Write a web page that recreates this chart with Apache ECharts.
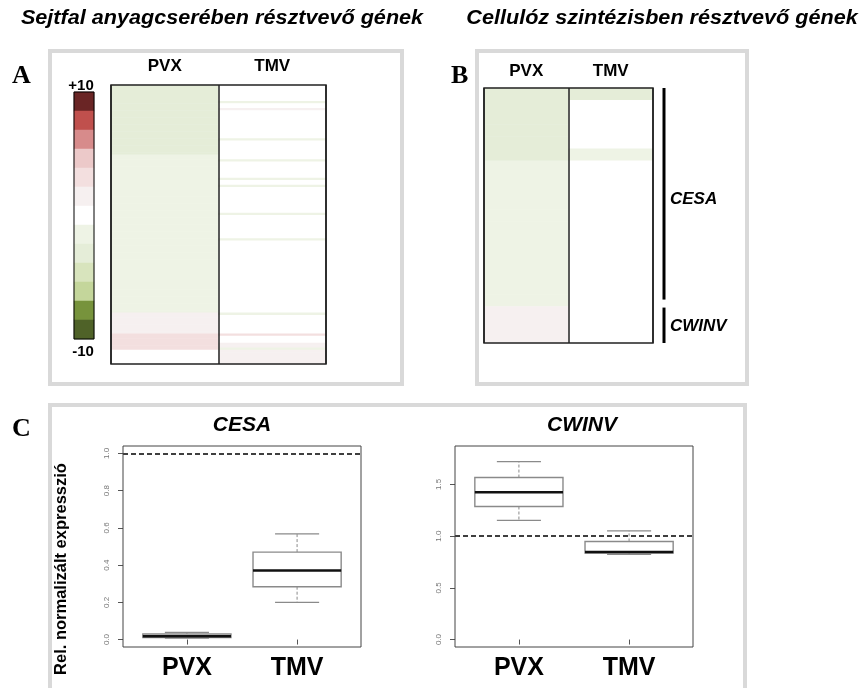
<!DOCTYPE html>
<html>
<head>
<meta charset="utf-8">
<script src="https://cdn.jsdelivr.net/npm/echarts@6/dist/echarts.min.js"></script>
<style>
html,body{margin:0;padding:0;background:#fff;}
#chart{width:861px;height:688px;}
</style>
</head>
<body>
<div id="chart"></div>
<script>
// Colour key for log2 fold change, listed from +10 (top) to -10 (bottom)
const scaleColors = ['#6a2525','#c0504d','#d78b8b','#ecc9c9','#f3dfdf','#f6f0f0','#ffffff','#eef3e5','#e5edd8','#d8e4bd','#c4d69b','#77933c','#4f6228'];
const scaleEdges = [10, 8.46, 6.92, 5.38, 3.85, 2.31, 0.77, -0.77, -2.31, -3.85, -5.38, -6.92, -8.46, -10];
const scaleSteps = [9.2, 7.7, 6.2, 4.6, 3.1, 1.5, 0, -1.5, -3.1, -4.6, -6.2, -7.7, -9.2];
const scaleLabels = ['+10', '0', '-10'];

const conditions = ['PVX', 'TMV'];

// A: cell wall metabolism genes, one value per gene (top to bottom)
const wallPVX = [
  -3, -3, -3, -3, -3, -3, -3, -3, -3, -3,
  -3, -3, -3, -3, -3, -3, -3, -3, -3, -3,
  -3, -3, -3, -3, -3, -3, -3, -3, -3, -3,
  -1.5, -1.5, -1.5, -1.5, -1.5, -1.5, -1.5, -1.5, -1.5, -1.5,
  -1.5, -1.5, -1.5, -1.5, -1.5, -1.5, -1.5, -1.5, -1.5, -1.5,
  -1.5, -1.5, -1.5, -1.5, -1.5, -1.5, -1.5, -1.5, -1.5, -1.5,
  -1.5, -1.5, -1.5, -1.5, -1.5, -1.5, -1.5, -1.5, -1.5, -1.5,
  -1.5, -1.5, -1.5, -1.5, -1.5, -1.5, -1.5, -1.5, -1.5, -1.5,
  -1.5, -1.5, -1.5, -1.5, -1.5, -1.5, -1.5, -1.5, -1.5, -1.5,
  -1.5, -1.5, -1.5, -1.5, -1.5, -1.5, -1.5, -1.5, 1.5, 1.5,
  1.5, 1.5, 1.5, 1.5, 1.5, 1.5, 1.5, 3, 3, 3,
  3, 3, 3, 3, 0, 0, 0, 0, 0, 0
];
const wallTMV = [
  0, 0, 0, 0, 0, 0, 0, -1.5, 0, 0,
  1.2, 0, 0, 0, 0, 0, 0, 0, 0, 0,
  0, 0, 0, -1.5, 0, 0, 0, 0, 0, 0,
  0, 0, -1.5, 0, 0, 0, 0, 0, 0, 0,
  -1.5, 0, 0, -1.5, 0, 0, 0, 0, 0, 0,
  0, 0, 0, 0, 0, -1.5, 0, 0, 0, 0,
  0, 0, 0, 0, 0, 0, -1.5, 0, 0, 0,
  0, 0, 0, 0, 0, 0, 0, 0, 0, 0,
  0, 0, 0, 0, 0, 0, 0, 0, 0, 0,
  0, 0, 0, 0, 0, 0, 0, 0, -1.2, 0,
  0, 0, 0, 0, 0, 0, 0, 3, 0, 0,
  0, 1.5, 1.5, -1.2, 1.5, 1.5, 1.5, 1.5, 1.5, 1.5
];

// B: cellulose synthesis genes
const cellPVX = [-3, -3, -3, -3, -3, -3, -1.5, -1.5, -1.5, -1.5, -1.5, -1.5, -1.5, -1.5, -1.5, -1.5, -1.5, -1.5, 1.5, 1.5, 1.5];
const cellTMV = [-2.6, 0, 0, 0, 0, -1.5, 0, 0, 0, 0, 0, 0, 0, 0, 0, 0, 0, 0, 0, 0, 0];
const geneGroups = ['CESA', 'CWINV'];
const groupFirstRow = [0, 18];
const groupLastRow = [17, 20];

// C: relative normalised expression, [min, Q1, median, Q3, max]
const cesaStats = [[0.008, 0.011, 0.018, 0.030, 0.039], [0.200, 0.284, 0.371, 0.470, 0.568]];
const cwinvStats = [[1.152, 1.287, 1.425, 1.567, 1.721], [0.824, 0.837, 0.846, 0.949, 1.052]];
const cesaTicks = [0, 0.2, 0.4, 0.6, 0.8, 1.0];
const cwinvTicks = [0, 0.5, 1.0, 1.5];
const controlLevel = 1;

const SANS = 'Liberation Sans, Arial, sans-serif';
const SERIF = 'Liberation Serif, Times New Roman, serif';

const chart = echarts.init(document.getElementById('chart'), null, {renderer: 'canvas'});

function heatData(cols) {
  const out = [];
  cols.forEach((col, x) => col.forEach((v, y) => out.push([x, y, v])));
  return out;
}

const pieces = scaleColors.map((c, i) => ({min: scaleEdges[i + 1], max: scaleEdges[i], color: c}));

function boxAxisX(grid) {
  return {
    gridIndex: grid, type: 'value', min: 0.42, max: 2.58,
    axisLine: {show: false},
    axisTick: {show: true, length: 5, customValues: [1, 2], lineStyle: {color: '#555'}},
    axisLabel: {customValues: [1, 2], formatter: v => conditions[Math.round(v) - 1],
      fontSize: 25, fontWeight: 'bold', color: '#000', fontFamily: SANS, margin: 9},
    splitLine: {show: false}
  };
}
function boxAxisY(grid, lo, hi, ticks) {
  return {
    gridIndex: grid, type: 'value', min: lo, max: hi,
    axisLine: {show: false},
    axisTick: {show: true, length: 5, customValues: ticks, lineStyle: {color: '#555'}},
    axisLabel: {customValues: ticks, rotate: 90, fontSize: 8, color: '#777', fontFamily: SANS,
      margin: 12, formatter: v => v.toFixed(1)},
    splitLine: {show: false}
  };
}
function heatAxisX(grid, margin) {
  return {
    gridIndex: grid, type: 'category', data: conditions, position: 'top', z: 10,
    axisLine: {show: false}, axisTick: {show: false},
    axisLabel: {fontSize: 17, fontWeight: 'bold', color: '#000', fontFamily: SANS, margin: margin},
    splitLine: {show: true, lineStyle: {color: '#222', width: 1.5}}
  };
}
function rowAxis(grid, n) {
  return {gridIndex: grid, type: 'category', inverse: true, show: false,
    data: Array.from({length: n}, (_, i) => 'r' + i)};
}

function renderBox(params, api) {
  const x = api.value(0);
  const mn = api.value(1), q1 = api.value(2), md = api.value(3), q3 = api.value(4), mx = api.value(5);
  const half = api.size([0.8, 0])[0] / 2;
  const cx = api.coord([x, md])[0];
  const y = v => api.coord([x, v])[1];
  const grey = '#8a8a8a';
  return {
    type: 'group',
    children: [
      {type: 'line', shape: {x1: cx, y1: y(q3), x2: cx, y2: y(mx)}, style: {stroke: grey, lineWidth: 1, lineDash: [3, 2]}},
      {type: 'line', shape: {x1: cx, y1: y(q1), x2: cx, y2: y(mn)}, style: {stroke: grey, lineWidth: 1, lineDash: [3, 2]}},
      {type: 'line', shape: {x1: cx - half / 2, y1: y(mx), x2: cx + half / 2, y2: y(mx)}, style: {stroke: grey, lineWidth: 1.3}},
      {type: 'line', shape: {x1: cx - half / 2, y1: y(mn), x2: cx + half / 2, y2: y(mn)}, style: {stroke: grey, lineWidth: 1.3}},
      {type: 'rect', shape: {x: cx - half, y: y(q3), width: 2 * half, height: y(q1) - y(q3)}, style: {fill: '#fff', stroke: grey, lineWidth: 1.4}},
      {type: 'line', shape: {x1: cx - half, y1: y(md), x2: cx + half, y2: y(md)}, style: {stroke: '#111', lineWidth: 2.5}}
    ]
  };
}

function renderBracket(params, api) {
  const i = params.dataIndex;
  const band = api.size([0, 1])[1];
  let top = api.coord([0, api.value(1)])[1] - band / 2;
  let bottom = api.coord([0, api.value(2)])[1] + band / 2;
  const mid = (top + bottom) / 2;
  if (i < geneGroups.length - 1) bottom -= 7;
  if (i > 0) top += 1;
  const x = params.coordSys.x + 7;
  return {
    type: 'group',
    children: [
      {type: 'line', shape: {x1: x, y1: top, x2: x, y2: bottom}, style: {stroke: '#000', lineWidth: 3}},
      {type: 'text', style: {text: geneGroups[i], x: x + 6, y: mid + 2, verticalAlign: 'middle', align: 'left',
        font: 'italic bold 17px ' + SANS, fill: '#000'}}
    ]
  };
}

const markRef = {
  silent: true, symbol: 'none', label: {show: false},
  lineStyle: {color: '#000', type: [5, 3], width: 1.6},
  data: [{yAxis: controlLevel}]
};

const textStyle = (font, extra) => Object.assign({font: font, fill: '#000'}, extra || {});

chart.setOption({
  animation: false,
  backgroundColor: '#fff',
  visualMap: {
    type: 'piecewise', show: false, seriesIndex: [0, 1, 2], pieces: pieces, outOfRange: {color: '#fff'}
  },
  grid: [
    {left: 74, top: 92, width: 20, height: 247, show: true, borderColor: '#000', borderWidth: 1, z: 10},
    {left: 111, top: 85, width: 215, height: 279, show: true, borderColor: '#222', borderWidth: 1.5, z: 10},
    {left: 484, top: 88, width: 169, height: 255, show: true, borderColor: '#222', borderWidth: 1.5, z: 10},
    {left: 657, top: 88, width: 80, height: 255},
    {left: 123, top: 446, width: 238, height: 201, show: true, borderColor: '#444', borderWidth: 1, z: 10},
    {left: 455, top: 446, width: 238, height: 201, show: true, borderColor: '#444', borderWidth: 1, z: 10}
  ],
  xAxis: [
    {gridIndex: 0, type: 'category', data: [''], show: false},
    heatAxisX(1, 10),
    heatAxisX(2, 8),
    {gridIndex: 3, type: 'value', min: 0, max: 1, show: false},
    boxAxisX(4),
    boxAxisX(5)
  ],
  yAxis: [
    rowAxis(0, scaleSteps.length),
    rowAxis(1, wallPVX.length),
    rowAxis(2, cellPVX.length),
    rowAxis(3, cellPVX.length),
    boxAxisY(4, -0.04, 1.04, cesaTicks),
    boxAxisY(5, -0.072, 1.872, cwinvTicks)
  ],
  series: [
    {type: 'heatmap', xAxisIndex: 0, yAxisIndex: 0, data: scaleSteps.map((v, i) => [0, i, v]), itemStyle: {borderWidth: 0}},
    {type: 'heatmap', xAxisIndex: 1, yAxisIndex: 1, data: heatData([wallPVX, wallTMV]), itemStyle: {borderWidth: 0}},
    {type: 'heatmap', xAxisIndex: 2, yAxisIndex: 2, data: heatData([cellPVX, cellTMV]), itemStyle: {borderWidth: 0}},
    {type: 'custom', xAxisIndex: 3, yAxisIndex: 3, renderItem: renderBracket,
      encode: {x: 0, y: [1, 2]},
      data: geneGroups.map((g, i) => [0, groupFirstRow[i], groupLastRow[i]])},
    {type: 'custom', xAxisIndex: 4, yAxisIndex: 4, renderItem: renderBox,
      encode: {x: 0, y: [1, 2, 3, 4, 5]},
      data: cesaStats.map((s, i) => [i + 1].concat(s)), markLine: markRef},
    {type: 'custom', xAxisIndex: 5, yAxisIndex: 5, renderItem: renderBox,
      encode: {x: 0, y: [1, 2, 3, 4, 5]},
      data: cwinvStats.map((s, i) => [i + 1].concat(s)), markLine: markRef}
  ],
  graphic: [
    // panel frames
    {type: 'rect', z: -1, shape: {x: 50, y: 51, width: 352, height: 333}, style: {fill: 'none', stroke: '#d9d9d9', lineWidth: 4}},
    {type: 'rect', z: -1, shape: {x: 477, y: 51, width: 270, height: 333}, style: {fill: 'none', stroke: '#d9d9d9', lineWidth: 4}},
    {type: 'rect', z: -1, shape: {x: 50, y: 405, width: 695, height: 300}, style: {fill: 'none', stroke: '#d9d9d9', lineWidth: 4}},
    // panel letters
    {type: 'text', x: 12, y: 76, style: textStyle('bold 26px ' + SERIF, {text: 'A', verticalAlign: 'middle'})},
    {type: 'text', x: 451, y: 76, style: textStyle('bold 26px ' + SERIF, {text: 'B', verticalAlign: 'middle'})},
    {type: 'text', x: 12, y: 429, style: textStyle('bold 26px ' + SERIF, {text: 'C', verticalAlign: 'middle'})},
    // headings
    {type: 'text', x: 222, y: 18, scaleX: 1.08, style: textStyle('italic bold 20px ' + SANS, {text: 'Sejtfal anyagcserében résztvevő gének', align: 'center', verticalAlign: 'middle'})},
    {type: 'text', x: 662, y: 18, scaleX: 1.08, style: textStyle('italic bold 20px ' + SANS, {text: 'Cellulóz szintézisben résztvevő gének', align: 'center', verticalAlign: 'middle'})},
    // colour key labels
    {type: 'text', x: 81, y: 86, style: textStyle('bold 15px ' + SANS, {text: scaleLabels[0], align: 'center', verticalAlign: 'middle'})},
    {type: 'text', x: 86, y: 214, style: textStyle('bold 15px ' + SANS, {text: scaleLabels[1], align: 'center', verticalAlign: 'middle'})},
    {type: 'text', x: 83, y: 352, style: textStyle('bold 15px ' + SANS, {text: scaleLabels[2], align: 'center', verticalAlign: 'middle'})},
    // box plot titles and y label
    {type: 'text', x: 242, y: 425, style: textStyle('italic bold 21px ' + SANS, {text: 'CESA', align: 'center', verticalAlign: 'middle'})},
    {type: 'text', x: 582, y: 425, style: textStyle('italic bold 21px ' + SANS, {text: 'CWINV', align: 'center', verticalAlign: 'middle'})},
    {type: 'text', x: 61.5, y: 569, rotation: Math.PI / 2, style: textStyle('bold 16.5px ' + SANS, {text: 'Rel. normalizált expresszió', align: 'center', verticalAlign: 'middle'})}
  ]
});
</script>
</body>
</html>
